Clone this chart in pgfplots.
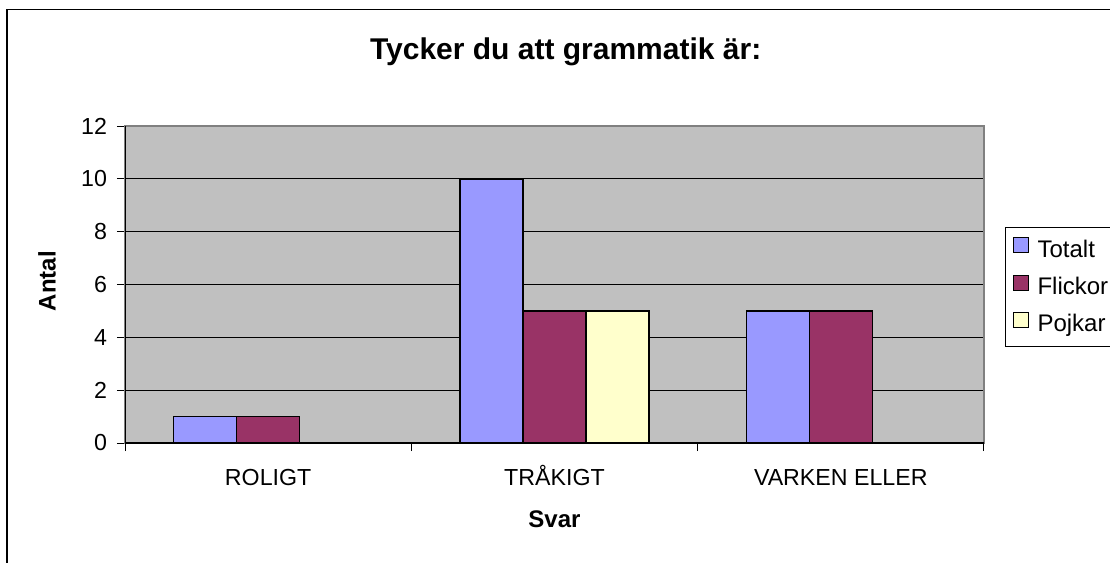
\documentclass[border=0pt]{standalone}
\usepackage{fontspec}
\setmainfont{Liberation Sans}
\usepackage{pgfplots}
\pgfplotsset{compat=1.18}
\definecolor{totalt}{HTML}{9999FF}
\definecolor{flickor}{HTML}{993366}
\definecolor{pojkar}{HTML}{FFFFCC}
\definecolor{plotbg}{HTML}{C0C0C0}
\definecolor{border}{HTML}{808080}
\begin{document}
\begin{tikzpicture}
\useasboundingbox (0,0) rectangle (555pt,-281.5pt);
\draw[line width=0.9pt] (3.5pt,-290pt) -- (3.5pt,-4.75pt) -- (560pt,-4.75pt);
\begin{axis}[
  at={(62.5pt,-221.5pt)}, anchor=south west,
  scale only axis, width=429.5pt, height=158.5pt,
  xmin=-0.5, xmax=2.5, ymin=0, ymax=12,
  xtick={-0.5,0.5,1.5,2.5}, x tick label as interval,
  xticklabels={ROLIGT,TRÅKIGT,VARKEN ELLER,},
  ytick={0,2,...,12},
  xtick pos=lower, ytick pos=left,
  tick align=outside, major tick length=4pt,
  ymajorgrids, grid style={black, line width=0.5pt},
  axis background/.style={fill=plotbg},
  axis line style={draw=border, line width=0.75pt},
  tick style={black, line width=0.5pt},
  /pgf/number format/assume math mode=true,
  tick label style={font=\fontsize{11.6}{13}\selectfont},
  xticklabel style={anchor=base, yshift=-17pt},
  yticklabel style={anchor=east, xshift=-1.5pt},
  xlabel={\textbf{Svar}},
  ylabel={\textbf{Antal}},
  xlabel style={at={(axis description cs:0.5,-0.268)}, anchor=base, font=\fontsize{12}{14}\selectfont},
  ylabel style={at={(axis description cs:-0.0908,0.511)}, anchor=center, font=\fontsize{12}{14}\selectfont},
  title={\textbf{Tycker du att grammatik är:}},
  title style={at={(axis description cs:0.513,1.1735)}, anchor=base, font=\fontsize{15}{18}\selectfont},
  legend style={at={(rel axis cs:1.0245,0.681)}, anchor=north west, draw=black, line width=0.5pt,
    font=\fontsize{12}{14}\selectfont, row sep=4.5pt, inner xsep=3pt, inner ysep=4pt},
  legend cell align=left,
  legend image code/.code={\draw[#1, line width=0.6pt] (1pt,-1.5pt) rectangle (8.5pt,6pt); \path[draw=none,fill=none] (0pt,0pt) -- (11pt,0pt);},
]
\addplot[ybar, bar width=0.22, bar shift=-0.22, fill=totalt, draw=black, line width=0.75pt]
  coordinates {(0,1) (1,10) (2,5)};
\addplot[ybar, bar width=0.22, bar shift=0, fill=flickor, draw=black, line width=0.75pt]
  coordinates {(0,1) (1,5) (2,5)};
\addplot[ybar, bar width=0.22, bar shift=0.22, fill=pojkar, draw=black, line width=0.75pt]
  coordinates {(0,0) (1,5) (2,0)};
\legend{Totalt,Flickor,Pojkar}
\draw[black, line width=0.75pt] (rel axis cs:0,1) -- (rel axis cs:0,0) -- (rel axis cs:1,0);
\end{axis}
\end{tikzpicture}
\end{document}
